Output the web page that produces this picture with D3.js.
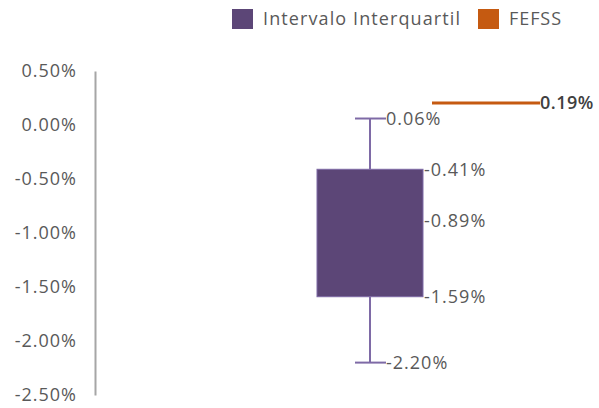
<!DOCTYPE html>
<html><head><meta charset="utf-8">
<script src="https://cdn.jsdelivr.net/npm/d3@7"></script>
<style>body{margin:0;background:#fff;}svg{display:block;}text{font-family:"Open Sans",sans-serif;}</style>
</head><body>
<script>
const categories = ["Intervalo Interquartil"];
const whiskerMax = [0.06];
const q1Top = [-0.41];
const median = [-0.89];
const q3Bottom = [-1.59];
const whiskerMin = [-2.20];
const fefss = [0.19];
const yTicks = [0.5, 0, -0.5, -1, -1.5, -2, -2.5];
const legendLabels = ["Intervalo Interquartil", "FEFSS"];
const colors = ["#5c4677", "#c55a11"];

const W = 599, H = 408;
const FS = "18px", LS = "1px";
const svg = d3.select("body").append("svg").attr("width", W).attr("height", H);
const y = d3.scaleLinear().domain([-2.5, 0.5]).range([395, 71]);
const x = d3.scaleBand().domain(categories).range([317, 423]).padding(0);
const fmt = v => v.toFixed(2) + "%";

// axis
const axis = d3.axisLeft(y).tickValues(yTicks).tickSize(0).tickPadding(18).tickFormat(fmt);
const gA = svg.append("g").attr("transform", "translate(95,0)").call(axis);
gA.select(".domain").attr("stroke", "#a6a6a6").attr("stroke-width", 2);
gA.selectAll("text").attr("fill", "#595959").style("font-size", FS).style("letter-spacing", LS).style("font-family", "'Open Sans',sans-serif");

const c = categories[0];
const cx = x(c) + x.bandwidth() / 2;
const wc = "#7e6aa6";
// whiskers
svg.append("line").attr("x1", cx).attr("x2", cx).attr("y1", y(whiskerMax[0])).attr("y2", y(q1Top[0])).attr("stroke", wc).attr("stroke-width", 2);
svg.append("line").attr("x1", cx).attr("x2", cx).attr("y1", y(q3Bottom[0])).attr("y2", y(whiskerMin[0])).attr("stroke", wc).attr("stroke-width", 2);
svg.append("line").attr("x1", cx - 15).attr("x2", cx + 16).attr("y1", y(whiskerMax[0])).attr("y2", y(whiskerMax[0])).attr("stroke", wc).attr("stroke-width", 2);
svg.append("line").attr("x1", cx - 15).attr("x2", cx + 16).attr("y1", y(whiskerMin[0])).attr("y2", y(whiskerMin[0])).attr("stroke", wc).attr("stroke-width", 2);
// box
svg.append("rect").attr("x", x(c)).attr("width", x.bandwidth()).attr("y", y(q1Top[0])).attr("height", y(q3Bottom[0]) - y(q1Top[0])).attr("fill", colors[0]).attr("stroke", "#7e6aa6").attr("stroke-width", 1);

// value labels
const lab = (xx, v) => svg.append("text").attr("x", xx).attr("y", y(v)).attr("dy", "0.35em").attr("fill", "#595959").style("font-size", FS).style("letter-spacing", LS).text(fmt(v));
lab(cx + 16, whiskerMax[0]);
lab(x(c) + x.bandwidth() + 1, q1Top[0]);
lab(x(c) + x.bandwidth() + 1, median[0]);
lab(x(c) + x.bandwidth() + 1, q3Bottom[0]);
lab(cx + 16, whiskerMin[0]);

// FEFSS line
const fy = y(fefss[0]) - 1.5;
svg.append("line").attr("x1", 432).attr("x2", 540).attr("y1", fy).attr("y2", fy).attr("stroke", colors[1]).attr("stroke-width", 3);
svg.append("text").attr("x", 540).attr("y", fy).attr("dy", "0.35em").attr("fill", "#404040").style("font-size", FS).style("font-weight", "600").style("letter-spacing", "0.5px").text(fmt(fefss[0]));

// legend
const lx = [232, 478];
const lw = [197, 52];
legendLabels.forEach((l, i) => {
  svg.append("rect").attr("x", lx[i]).attr("y", 9).attr("width", 21).attr("height", 20).attr("fill", colors[i]);
  svg.append("text").attr("x", lx[i] + 31).attr("y", 19).attr("dy", "0.35em").attr("fill", "#595959").style("font-size", FS)
    .attr("textLength", lw[i]).attr("lengthAdjust", "spacing").text(l);
});
</script>
</body></html>
